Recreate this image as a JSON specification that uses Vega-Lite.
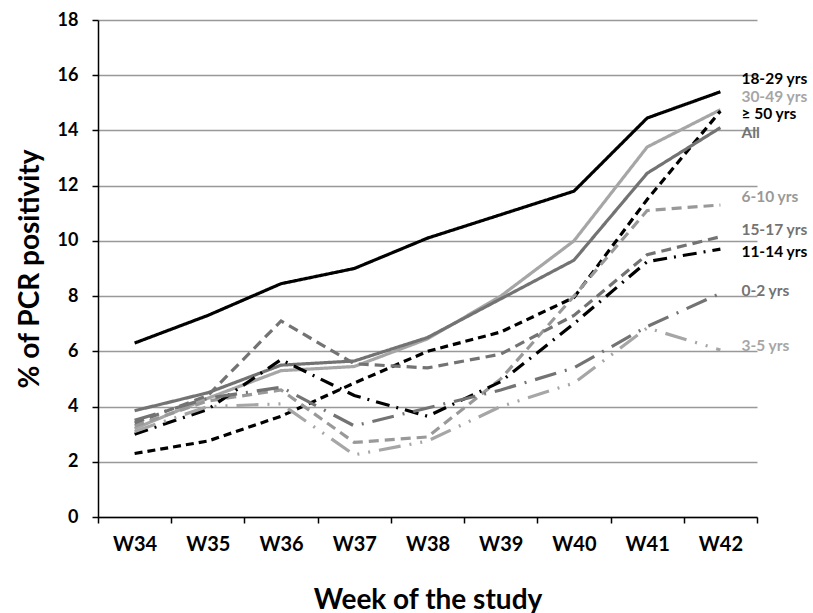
{
  "$schema": "https://vega.github.io/schema/vega-lite/v6.json",
  "width": 659,
  "height": 497,
  "autosize": {"type": "none"},
  "padding": {"left": 98, "top": 20, "right": 56, "bottom": 96},
  "background": "white",
  "config": {
    "font": "Lato",
    "view": {"stroke": null},
    "axis": {"labelFont": "Lato", "titleFont": "Lato"}
  },
  "datasets": {
    "series": [
      {"series": "18-29 yrs", "week": "W34", "value": 6.3},
      {"series": "18-29 yrs", "week": "W35", "value": 7.3},
      {"series": "18-29 yrs", "week": "W36", "value": 8.45},
      {"series": "18-29 yrs", "week": "W37", "value": 9.0},
      {"series": "18-29 yrs", "week": "W38", "value": 10.1},
      {"series": "18-29 yrs", "week": "W39", "value": 10.95},
      {"series": "18-29 yrs", "week": "W40", "value": 11.8},
      {"series": "18-29 yrs", "week": "W41", "value": 14.45},
      {"series": "18-29 yrs", "week": "W42", "value": 15.4},
      {"series": "30-49 yrs", "week": "W34", "value": 3.2},
      {"series": "30-49 yrs", "week": "W35", "value": 4.3},
      {"series": "30-49 yrs", "week": "W36", "value": 5.3},
      {"series": "30-49 yrs", "week": "W37", "value": 5.45},
      {"series": "30-49 yrs", "week": "W38", "value": 6.45},
      {"series": "30-49 yrs", "week": "W39", "value": 8.0},
      {"series": "30-49 yrs", "week": "W40", "value": 10.0},
      {"series": "30-49 yrs", "week": "W41", "value": 13.4},
      {"series": "30-49 yrs", "week": "W42", "value": 14.75},
      {"series": "≥ 50 yrs", "week": "W34", "value": 2.3},
      {"series": "≥ 50 yrs", "week": "W35", "value": 2.75},
      {"series": "≥ 50 yrs", "week": "W36", "value": 3.65},
      {"series": "≥ 50 yrs", "week": "W37", "value": 4.85},
      {"series": "≥ 50 yrs", "week": "W38", "value": 6.0},
      {"series": "≥ 50 yrs", "week": "W39", "value": 6.7},
      {"series": "≥ 50 yrs", "week": "W40", "value": 7.95},
      {"series": "≥ 50 yrs", "week": "W41", "value": 11.5},
      {"series": "≥ 50 yrs", "week": "W42", "value": 14.7},
      {"series": "All", "week": "W34", "value": 3.85},
      {"series": "All", "week": "W35", "value": 4.5},
      {"series": "All", "week": "W36", "value": 5.5},
      {"series": "All", "week": "W37", "value": 5.65},
      {"series": "All", "week": "W38", "value": 6.5},
      {"series": "All", "week": "W39", "value": 7.9},
      {"series": "All", "week": "W40", "value": 9.3},
      {"series": "All", "week": "W41", "value": 12.45},
      {"series": "All", "week": "W42", "value": 14.1},
      {"series": "6-10 yrs", "week": "W34", "value": 3.3},
      {"series": "6-10 yrs", "week": "W35", "value": 4.2},
      {"series": "6-10 yrs", "week": "W36", "value": 4.6},
      {"series": "6-10 yrs", "week": "W37", "value": 2.7},
      {"series": "6-10 yrs", "week": "W38", "value": 2.9},
      {"series": "6-10 yrs", "week": "W39", "value": 5.0},
      {"series": "6-10 yrs", "week": "W40", "value": 8.0},
      {"series": "6-10 yrs", "week": "W41", "value": 11.1},
      {"series": "6-10 yrs", "week": "W42", "value": 11.3},
      {"series": "15-17 yrs", "week": "W34", "value": 3.4},
      {"series": "15-17 yrs", "week": "W35", "value": 4.4},
      {"series": "15-17 yrs", "week": "W36", "value": 7.1},
      {"series": "15-17 yrs", "week": "W37", "value": 5.55},
      {"series": "15-17 yrs", "week": "W38", "value": 5.4},
      {"series": "15-17 yrs", "week": "W39", "value": 5.9},
      {"series": "15-17 yrs", "week": "W40", "value": 7.3},
      {"series": "15-17 yrs", "week": "W41", "value": 9.5},
      {"series": "15-17 yrs", "week": "W42", "value": 10.15},
      {"series": "11-14 yrs", "week": "W34", "value": 3.0},
      {"series": "11-14 yrs", "week": "W35", "value": 3.9},
      {"series": "11-14 yrs", "week": "W36", "value": 5.7},
      {"series": "11-14 yrs", "week": "W37", "value": 4.4},
      {"series": "11-14 yrs", "week": "W38", "value": 3.65},
      {"series": "11-14 yrs", "week": "W39", "value": 4.9},
      {"series": "11-14 yrs", "week": "W40", "value": 7.0},
      {"series": "11-14 yrs", "week": "W41", "value": 9.25},
      {"series": "11-14 yrs", "week": "W42", "value": 9.7},
      {"series": "0-2 yrs", "week": "W34", "value": 3.5},
      {"series": "0-2 yrs", "week": "W35", "value": 4.3},
      {"series": "0-2 yrs", "week": "W36", "value": 4.7},
      {"series": "0-2 yrs", "week": "W37", "value": 3.3},
      {"series": "0-2 yrs", "week": "W38", "value": 3.95},
      {"series": "0-2 yrs", "week": "W39", "value": 4.6},
      {"series": "0-2 yrs", "week": "W40", "value": 5.4},
      {"series": "0-2 yrs", "week": "W41", "value": 6.9},
      {"series": "0-2 yrs", "week": "W42", "value": 8.1},
      {"series": "3-5 yrs", "week": "W34", "value": 3.1},
      {"series": "3-5 yrs", "week": "W35", "value": 4.0},
      {"series": "3-5 yrs", "week": "W36", "value": 4.1},
      {"series": "3-5 yrs", "week": "W37", "value": 2.25},
      {"series": "3-5 yrs", "week": "W38", "value": 2.75},
      {"series": "3-5 yrs", "week": "W39", "value": 4.0},
      {"series": "3-5 yrs", "week": "W40", "value": 4.85},
      {"series": "3-5 yrs", "week": "W41", "value": 6.85},
      {"series": "3-5 yrs", "week": "W42", "value": 6.05}
    ],
    "labels": [
      {"series": "18-29 yrs", "week": "W42", "value": 15.88},
      {"series": "30-49 yrs", "week": "W42", "value": 15.22},
      {"series": "≥ 50 yrs", "week": "W42", "value": 14.58},
      {"series": "All", "week": "W42", "value": 13.9},
      {"series": "6-10 yrs", "week": "W42", "value": 11.6},
      {"series": "15-17 yrs", "week": "W42", "value": 10.4},
      {"series": "11-14 yrs", "week": "W42", "value": 9.6},
      {"series": "0-2 yrs", "week": "W42", "value": 8.2},
      {"series": "3-5 yrs", "week": "W42", "value": 6.2}
    ]
  },
  "encoding": {
    "x": {
      "field": "week",
      "type": "ordinal",
      "scale": {"type": "band", "paddingInner": 0, "paddingOuter": 0, "domain": ["W34","W35","W36","W37","W38","W39","W40","W41","W42"]},
      "axis": {
        "title": "Week of the study",
        "titleFontSize": 28,
        "titleFontWeight": "bold",
        "titleColor": "#000",
        "titlePadding": 32,
        "labelAngle": 0,
        "labelFontSize": 20,
        "labelFontWeight": "bold",
        "labelColor": "#000",
        "labelPadding": 11,
        "tickBand": "extent",
        "tickColor": "#000",
        "tickSize": 6,
        "domainColor": "#000",
        "domainWidth": 1.5,
        "tickWidth": 1.5
      }
    },
    "y": {
      "field": "value",
      "type": "quantitative",
      "scale": {"domain": [0, 18], "nice": false},
      "axis": {
        "title": "% of PCR positivity",
        "titleFontSize": 28,
        "titleFontWeight": "bold",
        "titleColor": "#000",
        "titlePadding": 13,
        "values": [0,2,4,6,8,10,12,14,16,18],
        "labelFontSize": 18,
        "labelFontWeight": "bold",
        "labelColor": "#000",
        "labelPadding": 14,
        "tickColor": "#000",
        "tickSize": 6,
        "tickWidth": 1.5,
        "domainColor": "#000",
        "domainWidth": 1.5,
        "grid": true,
        "gridColor": "#999",
        "gridWidth": 1.3
      }
    },
    "color": {
      "field": "series",
      "type": "nominal",
      "legend": null,
      "scale": {
        "domain": ["18-29 yrs","30-49 yrs","≥ 50 yrs","All","6-10 yrs","15-17 yrs","11-14 yrs","0-2 yrs","3-5 yrs"],
        "range": ["#000000","#a6a6a6","#000000","#737373","#999999","#737373","#000000","#737373","#a6a6a6"]
      }
    }
  },
  "layer": [
    {
      "data": {"name": "series"},
      "mark": {"type": "line", "strokeWidth": 3.2},
      "encoding": {
        "strokeDash": {
          "field": "series",
          "type": "nominal",
          "legend": null,
          "scale": {
            "domain": ["18-29 yrs","30-49 yrs","≥ 50 yrs","All","6-10 yrs","15-17 yrs","11-14 yrs","0-2 yrs","3-5 yrs"],
            "range": [[1,0],[1,0],[8,5],[1,0],[10,6],[10,6],[14,7,2,7],[22,9,2,9],[22,9,2,9,2,9]]
          }
        }
      }
    },
    {
      "data": {"name": "labels"},
      "mark": {"type": "text", "align": "left", "baseline": "middle", "dx": 21, "fontSize": 15.5, "fontWeight": "bold", "font": "Lato"},
      "encoding": {
        "text": {"field": "series", "type": "nominal"}
      }
    }
  ]
}
